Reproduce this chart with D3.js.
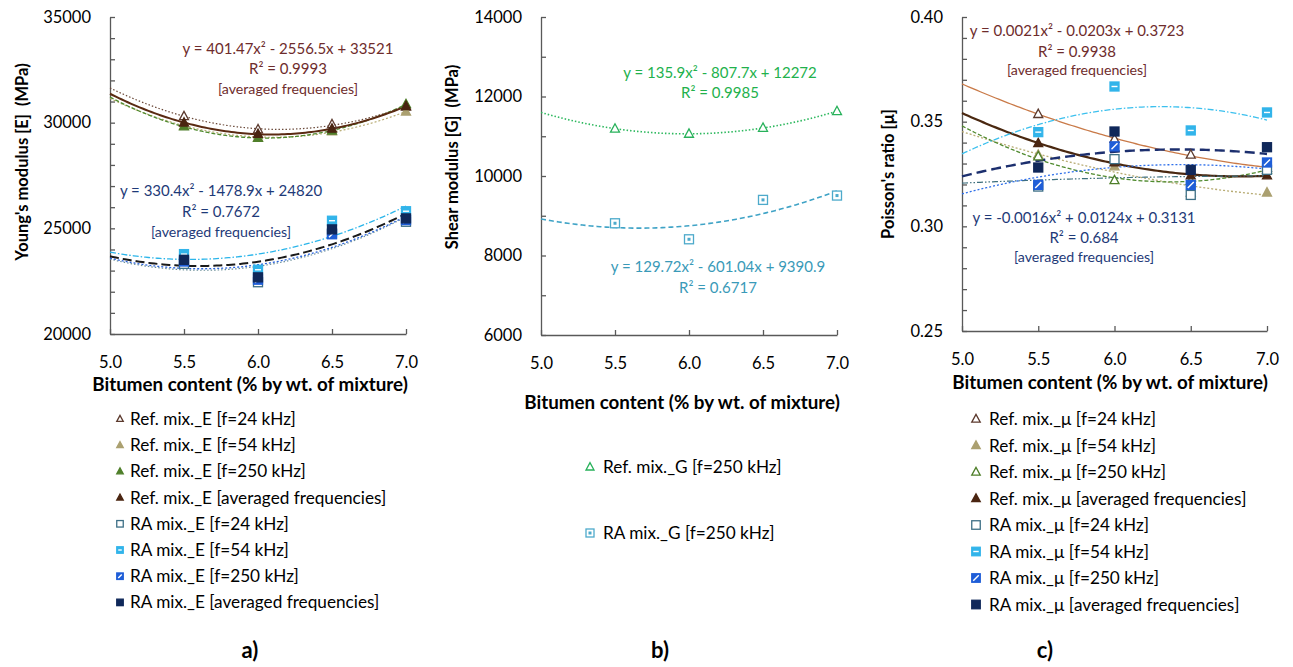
<!DOCTYPE html>
<html>
<head>
<meta charset="utf-8">
<script src="https://cdn.jsdelivr.net/npm/d3@7"></script>
<style>
  body { margin: 0; background: #fff; }
  svg text { font-family: Lato, "Open Sans", sans-serif; }
</style>
</head>
<body>
<svg id="chart" width="1293" height="667"></svg>
<script>
// bitumen content (% by wt. of mixture) - the 5.0 specimens carry no marker in the original
const bitumen = [5.0, 5.5, 6.0, 6.5, 7.0];
const xTicks = [5.0, 5.5, 6.0, 6.5, 7.0];

// a) Young's modulus E (MPa)
const refE24 = [31650, 30300, 29680, 29920, 30760];
const refE54 = [31150, 29860, 29300, 29580, 30520];
const refE250 = [31200, 29820, 29270, 29620, 30870];
const refEavg = [31370, 30000, 29460, 29710, 30780];
const raE24 = [23526, 23320, 22450, 24760, 25310];
const raE54 = [23870, 23780, 23040, 25360, 25810];
const raE250 = [23545, 23430, 22570, 24720, 25390];
const raEavg = [23660, 23510, 22680, 24950, 25470];
const eTickLabels = [20000, 25000, 30000, 35000];

// b) shear modulus G (MPa)
const refG250 = [11600, 11190, 11060, 11210, 11630];
const raG250 = [8922, 8811, 8408, 9399, 9508];
const gTickLabels = [6000, 8000, 10000, 12000, 14000];

// c) Poisson's ratio
const refMu24 = [0.3681, 0.3536, 0.3417, 0.3342, 0.3280];
const refMu54 = [0.3450, 0.3342, 0.3286, 0.3161, 0.3161];
const refMu250 = [0.3475, 0.3334, 0.3220, 0.3217, 0.3270];
const refMuAvg = [0.3541, 0.3397, 0.3305, 0.3243, 0.3243];
const raMu24 = [0.3207, 0.3190, 0.3321, 0.3150, 0.3270];
const raMu54 = [0.3346, 0.3450, 0.3668, 0.3458, 0.3544];
const raMu250 = [0.3157, 0.3198, 0.3382, 0.3198, 0.3305];
const raMuAvg = [0.3239, 0.3281, 0.3453, 0.3270, 0.3378];
const muTickLabels = [0.25, 0.30, 0.35, 0.40];

const legendA = ["Ref. mix._E [f=24 kHz]", "Ref. mix._E [f=54 kHz]", "Ref. mix._E [f=250 kHz]",
  "Ref. mix._E [averaged frequencies]", "RA mix._E [f=24 kHz]", "RA mix._E [f=54 kHz]",
  "RA mix._E [f=250 kHz]", "RA mix._E [averaged frequencies]"];
const legendB = ["Ref. mix._G [f=250 kHz]", "RA mix._G [f=250 kHz]"];
const legendC = ["Ref. mix._μ [f=24 kHz]", "Ref. mix._μ [f=54 kHz]", "Ref. mix._μ [f=250 kHz]",
  "Ref. mix._μ [averaged frequencies]", "RA mix._μ [f=24 kHz]", "RA mix._μ [f=54 kHz]",
  "RA mix._μ [f=250 kHz]", "RA mix._μ [averaged frequencies]"];

const svg = d3.select("#chart");

// least squares 2nd order polynomial (excel-like trendline), x centred on 6
function polyfit2(xs, ys) {
  let s = [0, 0, 0, 0, 0], t = [0, 0, 0];
  xs.forEach((x0, i) => {
    const x = x0 - 6;
    for (let k = 0; k < 5; k++) s[k] += Math.pow(x, k);
    for (let k = 0; k < 3; k++) t[k] += ys[i] * Math.pow(x, k);
  });
  const m = [[s[0], s[1], s[2], t[0]], [s[1], s[2], s[3], t[1]], [s[2], s[3], s[4], t[2]]];
  for (let i = 0; i < 3; i++) {
    for (let j = i + 1; j < 3; j++) {
      const f = m[j][i] / m[i][i];
      for (let k = i; k < 4; k++) m[j][k] -= f * m[i][k];
    }
  }
  const r = [0, 0, 0];
  for (let i = 2; i >= 0; i--) {
    let v = m[i][3];
    for (let k = i + 1; k < 3; k++) v -= m[i][k] * r[k];
    r[i] = v / m[i][i];
  }
  return x0 => { const x = x0 - 6; return r[0] + r[1] * x + r[2] * x * x; };
}

function marker(g, type, cx, cy, s, c) {
  const h = s / 2;
  if (type.startsWith("tri")) {
    g.append("path")
      .attr("d", `M${cx},${cy - h * 1.1}L${cx - h},${cy + h * 0.75}L${cx + h},${cy + h * 0.75}Z`)
      .attr("fill", type === "triFill" ? c : "#fff")
      .attr("stroke", c).attr("stroke-width", 1.3);
    return;
  }
  g.append("rect").attr("x", cx - h).attr("y", cy - h).attr("width", s).attr("height", s)
    .attr("fill", (type === "sqOpen" || type === "sqCross") ? "#fff" : c)
    .attr("stroke", c).attr("stroke-width", 1.3);
  if (type === "sqHStripe") {
    g.append("line").attr("x1", cx - h + 1.5).attr("x2", cx + h - 1.5).attr("y1", cy).attr("y2", cy)
      .attr("stroke", "#fff").attr("stroke-width", 1.4);
  } else if (type === "sqDiag") {
    g.append("line").attr("x1", cx - h + 1.5).attr("y1", cy + h - 1.5).attr("x2", cx + h - 1.5).attr("y2", cy - h + 1.5)
      .attr("stroke", "#fff").attr("stroke-width", 1.4);
  } else if (type === "sqCross") {
    g.append("rect").attr("x", cx - 1.5).attr("y", cy - 1.5).attr("width", 3).attr("height", 3).attr("fill", c);
  }
}

const panels = [
  {
    left: 110, right: 406, top: 17, bottom: 334, yDomain: [20000, 35000], yLabels: eTickLabels, step: 1000,
    fmt: d3.format("d"), yTitle: "Young's modulus [E]  (MPa)", yTitleX: 22, yTitleY: 162,
    xPad: 22, xTitleX: 250, xTitleY: 391, tag: "a)", tagX: 250,
    legend: { labels: legendA, x: 120, y: 419, dy: 26.2, size: 6.5, gap: 10 },
    series: [
      { v: refE24, m: "triOpen", mc: "#5C3A2E", lc: "#6B4A3A", dash: "1.5,2", w: 1.2 },
      { v: refE54, m: "triFill", mc: "#ABA070", lc: "#B8AC74", dash: "2,2", w: 1.2 },
      { v: refE250, m: "triFill", mc: "#4F7F2A", lc: "#4F8A2E", dash: "4,2", w: 1.3 },
      { v: refEavg, m: "triFill", mc: "#4A2511", lc: "#5A2A12", dash: null, w: 2 },
      { v: raE24, m: "sqOpen", mc: "#3D6F86", lc: "#6A8F98", dash: "1.5,2", w: 1.2 },
      { v: raE54, m: "sqHStripe", mc: "#32B4EA", lc: "#2BB5EA", dash: "6,2,1.5,2", w: 1.3 },
      { v: raE250, m: "sqDiag", mc: "#1F5ED8", lc: "#2A63DD", dash: "2,2", w: 1.3 },
      { v: raEavg, m: "sqFill", mc: "#10285A", lc: "#1A1A1A", dash: "9,4", w: 2 }
    ],
    equations: [
      { x: 288, c: "#6E2C2C", lines: [["y = 401.47x² - 2556.5x + 33521", 49], ["R² = 0.9993", 69], ["[averaged frequencies]", 89, true]] },
      { x: 221, c: "#1E3A78", lines: [["y = 330.4x² - 1478.9x + 24820", 191], ["R² = 0.7672", 212], ["[averaged frequencies]", 232, true]] }
    ]
  },
  {
    left: 541, right: 837, top: 17, bottom: 335, yDomain: [6000, 14000], yLabels: gTickLabels, step: 1000,
    fmt: d3.format("d"), yTitle: "Shear modulus [G]  (MPa)", yTitleX: 452, yTitleY: 157,
    xPad: 22, xTitleX: 682, xTitleY: 409, tag: "b)", tagX: 660,
    legend: { labels: legendB, x: 590, y: 467, dy: 66, size: 8, gap: 13 },
    series: [
      { v: refG250, m: "triOpen", mc: "#27B15A", lc: "#2DB85E", dash: "1.5,2", w: 1.6 },
      { v: raG250, m: "sqCross", mc: "#4DAACB", lc: "#3FA3C6", dash: "5,3", w: 1.6 }
    ],
    equations: [
      { x: 720, c: "#22B14C", lines: [["y = 135.9x² - 807.7x + 12272", 73], ["R² = 0.9985", 93]] },
      { x: 718, c: "#3A9AB8", lines: [["y = 129.72x² - 601.04x + 9390.9", 267], ["R² = 0.6717", 288]] }
    ]
  },
  {
    left: 962, right: 1267, top: 17, bottom: 331, yDomain: [0.25, 0.40], yLabels: muTickLabels, step: 0.01,
    fmt: d3.format(".2f"), yTitle: "Poisson's ratio [μ]", yTitleX: 888, yTitleY: 174,
    xPad: 22, xTitleX: 1110, xTitleY: 389, tag: "c)", tagX: 1045,
    legend: { labels: legendC, x: 976, y: 419, dy: 26.5, size: 8.5, gap: 13 },
    series: [
      { v: refMu24, m: "triOpen", mc: "#5C3A2E", lc: "#C97A48", dash: null, w: 1.3 },
      { v: refMu54, m: "triFill", mc: "#ABA070", lc: "#B8AC74", dash: "2,2", w: 1.3 },
      { v: refMu250, m: "triOpen", mc: "#4F7F2A", lc: "#4F8A2E", dash: "4,2", w: 1.3 },
      { v: refMuAvg, m: "triFill", mc: "#4A2511", lc: "#4A2810", dash: null, w: 2.2 },
      { v: raMu24, m: "sqOpen", mc: "#3D6F86", lc: "#3E6F7D", dash: "6,2,1.5,2,1.5,2", w: 1.2 },
      { v: raMu54, m: "sqHStripe", mc: "#32B4EA", lc: "#3CC0EE", dash: "6,2,1.5,2", w: 1.3 },
      { v: raMu250, m: "sqDiag", mc: "#1F5ED8", lc: "#2E6FEA", dash: "2,2", w: 1.3 },
      { v: raMuAvg, m: "sqFill", mc: "#10285A", lc: "#1C2F6E", dash: "10,5", w: 2.4 }
    ],
    equations: [
      { x: 1077, c: "#6E2C2C", lines: [["y = 0.0021x² - 0.0203x + 0.3723", 31], ["R² = 0.9938", 52], ["[averaged frequencies]", 70, true]] },
      { x: 1084, c: "#1E3A78", lines: [["y = -0.0016x² + 0.0124x + 0.3131", 218], ["R² = 0.684", 238], ["[averaged frequencies]", 257, true]] }
    ]
  }
];

function drawPanel(p) {
  const g = svg.append("g");
  const x = d3.scaleLinear().domain([5, 7]).range([p.left, p.right]);
  const y = d3.scaleLinear().domain(p.yDomain).range([p.bottom, p.top]);

  const n = Math.round((p.yDomain[1] - p.yDomain[0]) / p.step);
  const yTicks = d3.range(n + 1).map(i => p.yDomain[0] + i * p.step);
  const isLabel = d => p.yLabels.some(l => Math.abs(l - d) < p.step / 10);

  const yAxis = g.append("g").attr("transform", `translate(${p.left},0)`)
    .call(d3.axisLeft(y).tickValues(yTicks).tickSize(-5).tickSizeOuter(0).tickPadding(19)
      .tickFormat(d => isLabel(d) ? p.fmt(d) : ""));
  const xAxis = g.append("g").attr("transform", `translate(0,${p.bottom})`)
    .call(d3.axisBottom(x).tickValues(xTicks).tickSize(-5).tickSizeOuter(0).tickPadding(p.xPad)
      .tickFormat(d3.format(".1f")));
  [yAxis, xAxis].forEach(a => {
    a.selectAll("path, line").attr("stroke", "#595959").attr("stroke-width", 1.3);
    a.selectAll("text").attr("fill", "#000").style("font-size", "16.5px").style("font-family", "Lato, sans-serif");
  });

  // trendlines
  const xs = d3.range(0, 101).map(i => 5 + i * 0.02);
  p.series.forEach(s => {
    const f = polyfit2(bitumen, s.v);
    g.append("path")
      .attr("d", d3.line().x(d => x(d)).y(d => y(f(d)))(xs))
      .attr("fill", "none").attr("stroke", s.lc).attr("stroke-width", s.w)
      .attr("stroke-dasharray", s.dash);
  });
  // markers (5.5 - 7.0)
  p.series.forEach(s => {
    s.v.forEach((v, i) => {
      if (i === 0) return;
      marker(g, s.m, x(bitumen[i]), y(v), 9, s.mc);
    });
  });

  // equations
  p.equations.forEach(e => {
    e.lines.forEach(l => {
      g.append("text").attr("x", e.x).attr("y", l[1]).attr("dy", "0.35em")
        .attr("text-anchor", "middle").attr("fill", e.c)
        .style("font-size", l[2] ? "14.2px" : "15px").text(l[0]);
    });
  });

  // axis titles
  g.append("text").attr("transform", `translate(${p.yTitleX},${p.yTitleY}) rotate(-90)`)
    .attr("text-anchor", "middle").attr("dy", "0.35em").style("white-space", "pre")
    .style("font-size", "16.5px").style("font-weight", "bold").text(p.yTitle);
  g.append("text").attr("x", p.xTitleX).attr("y", p.xTitleY).attr("text-anchor", "middle")
    .style("font-size", "18.8px").style("font-weight", "bold")
    .text("Bitumen content (% by wt. of mixture)");

  // legend
  const lg = p.legend;
  lg.labels.forEach((t, i) => {
    const cy = lg.y + i * lg.dy;
    marker(g, p.series[i].m, lg.x, cy, lg.size, p.series[i].mc);
    g.append("text").attr("x", lg.x + lg.gap).attr("y", cy).attr("dy", "0.35em")
      .style("font-size", "17.2px").attr("fill", "#000").text(t);
  });

  g.append("text").attr("x", p.tagX).attr("y", 658).attr("text-anchor", "middle")
    .style("font-size", "22px").style("font-weight", "bold").text(p.tag);
}

panels.forEach(drawPanel);
</script>
</body>
</html>
